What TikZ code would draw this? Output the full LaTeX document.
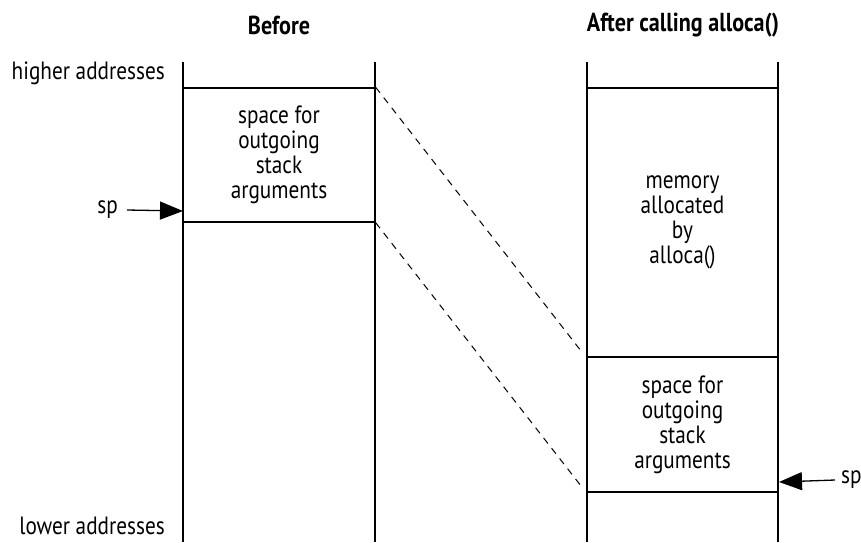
\documentclass[tikz,border=0pt]{standalone}
\usepackage{fontspec}
\setmainfont{PT Sans}[FakeStretch=0.85]
\usetikzlibrary{arrows.meta}
\begin{document}
\begin{tikzpicture}[x=1pt,y=-1pt,
  lbl/.style={font=\fontsize{25}{25}\selectfont, inner sep=0pt},
  ttl/.style={font=\fontsize{26}{28}\selectfont\bfseries, inner sep=0pt},
  cell/.style={draw, line width=1.4pt, inner sep=0pt, align=center,
    font=\fontsize{25}{25}\selectfont},
  col/.style={line width=1.4pt},
  dsh/.style={dashed, line width=1pt, dash pattern=on 7pt off 6pt},
  ptr/.style={line width=1.3pt, -{Triangle[length=23pt,width=18pt]}}]
\useasboundingbox (0,0) rectangle (861,542);
% titles
\node[ttl] (tb) at (279,25) {Before};
\node[ttl] (ta) at (683,25) {After calling alloca()};
% column boundaries
\coordinate (L1t) at (183,62); \coordinate (L1b) at (183,542);
\coordinate (L2t) at (375,62); \coordinate (L2b) at (375,542);
\coordinate (R1t) at (587,62); \coordinate (R1b) at (587,542);
\coordinate (R2t) at (778,62); \coordinate (R2b) at (778,542);
\draw[col] (L1t) -- (L1b);
\draw[col] (L2t) -- (L2b);
\draw[col] (R1t) -- (R1b);
\draw[col] (R2t) -- (R2b);
% cells
\node[cell, minimum width=192pt, minimum height=134pt] (largs) at (279,155)
  {space for\\outgoing\\stack\\arguments};
\node[cell, minimum width=191pt, minimum height=269pt] (ralloc) at (682.5,222.5)
  {memory\\allocated\\by\\alloca()};
\node[cell, minimum width=191pt, minimum height=135pt] (rargs) at (682.5,424.5)
  {space for\\outgoing\\stack\\arguments};
% dashed correspondences
\draw[dsh, shorten >=9pt] (largs.north east) -- (ralloc.south west);
\draw[dsh, shorten >=9pt] (largs.south east) -- (rargs.south west);
% side labels
\node[lbl, anchor=east] (hi) at (165,73) {higher addresses};
\node[lbl, anchor=east] (lo) at (165,526) {lower addresses};
\node[lbl, anchor=east] (spl) at (118,210) {sp};
\node[lbl, anchor=west] (spr) at (841,480) {sp};
\coordinate (al) at (183,211);
\coordinate (ar) at (779,482);
\draw[ptr] (spl.east) ++(9pt,0) coordinate (sls) -- (al);
\draw[ptr] (spr.west) ++(-6pt,0) coordinate (srs) -- (ar);
\end{tikzpicture}
\end{document}
